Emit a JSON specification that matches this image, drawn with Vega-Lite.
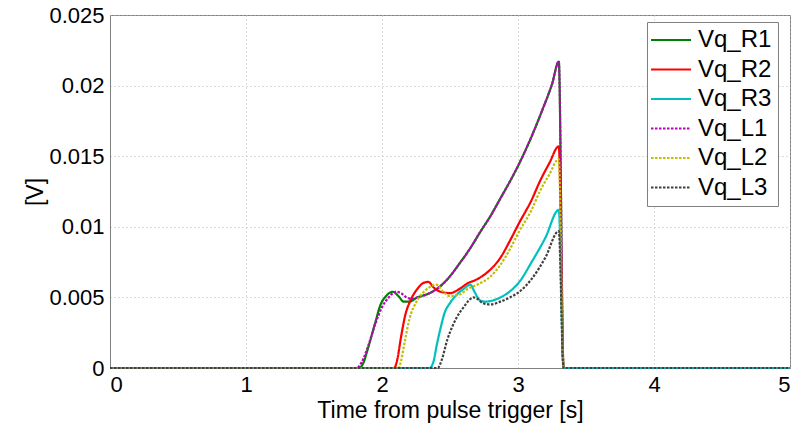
{
  "$schema": "https://vega.github.io/schema/vega-lite/v6.json",
  "width": 680,
  "height": 353,
  "autosize": {"type": "none"},
  "padding": {"left": 110, "top": 15, "right": 13, "bottom": 57},
  "background": "white",
  "config": {
    "view": {"stroke": "#808080", "strokeWidth": 1},
    "font": "Liberation Sans",
    "axis": {
      "labelFont": "Liberation Sans",
      "titleFont": "Liberation Sans",
      "labelFontSize": 22,
      "titleFontSize": 23,
      "titleFontWeight": "normal",
      "labelColor": "black",
      "titleColor": "black",
      "domainColor": "#808080",
      "ticks": false,
      "grid": true,
      "gridDash": [1, 3],
      "gridColor": "#b8b8b8"
    },
    "legend": {
      "symbolType": "M-4,0H4",
      "symbolSize": 100,
      "symbolStrokeWidth": 2.2,
      "symbolOffset": 6,
      "labelOffset": 15,
      "labelFontSize": 24,
      "labelFont": "Liberation Sans",
      "labelColor": "black",
      "strokeColor": "#808080",
      "fillColor": "white",
      "padding": 6,
      "rowPadding": 5.5
    }
  },
  "data": {
    "values": [
      {"series": "Vq_R1", "t": 0, "v": 0},
      {"series": "Vq_R1", "t": 1.83, "v": 0},
      {"series": "Vq_R1", "t": 1.86, "v": 0.0003},
      {"series": "Vq_R1", "t": 1.90, "v": 0.0015},
      {"series": "Vq_R1", "t": 1.95, "v": 0.0032},
      {"series": "Vq_R1", "t": 1.99, "v": 0.0045},
      {"series": "Vq_R1", "t": 2.03, "v": 0.0051},
      {"series": "Vq_R1", "t": 2.08, "v": 0.0054},
      {"series": "Vq_R1", "t": 2.12, "v": 0.0051},
      {"series": "Vq_R1", "t": 2.16, "v": 0.0047},
      {"series": "Vq_R1", "t": 2.20, "v": 0.0047},
      {"series": "Vq_R1", "t": 2.26, "v": 0.0050},
      {"series": "Vq_R1", "t": 2.35, "v": 0.0053},
      {"series": "Vq_R1", "t": 2.43, "v": 0.0058},
      {"series": "Vq_R1", "t": 2.50, "v": 0.0065},
      {"series": "Vq_R1", "t": 2.57, "v": 0.0074},
      {"series": "Vq_R1", "t": 2.65, "v": 0.0085},
      {"series": "Vq_R1", "t": 2.72, "v": 0.0096},
      {"series": "Vq_R1", "t": 2.80, "v": 0.0108},
      {"series": "Vq_R1", "t": 2.87, "v": 0.0120},
      {"series": "Vq_R1", "t": 2.94, "v": 0.0132},
      {"series": "Vq_R1", "t": 3.01, "v": 0.0145},
      {"series": "Vq_R1", "t": 3.10, "v": 0.0164},
      {"series": "Vq_R1", "t": 3.18, "v": 0.0183},
      {"series": "Vq_R1", "t": 3.25, "v": 0.0201},
      {"series": "Vq_R1", "t": 3.30, "v": 0.0217},
      {"series": "Vq_R1", "t": 3.335, "v": 0},
      {"series": "Vq_R1", "t": 5, "v": 0},

      {"series": "Vq_R2", "t": 0, "v": 0},
      {"series": "Vq_R2", "t": 2.09, "v": 0},
      {"series": "Vq_R2", "t": 2.11, "v": 0.0005},
      {"series": "Vq_R2", "t": 2.14, "v": 0.0022},
      {"series": "Vq_R2", "t": 2.17, "v": 0.0037},
      {"series": "Vq_R2", "t": 2.21, "v": 0.0048},
      {"series": "Vq_R2", "t": 2.26, "v": 0.0056},
      {"series": "Vq_R2", "t": 2.30, "v": 0.0060},
      {"series": "Vq_R2", "t": 2.34, "v": 0.0061},
      {"series": "Vq_R2", "t": 2.38, "v": 0.0057},
      {"series": "Vq_R2", "t": 2.43, "v": 0.0054},
      {"series": "Vq_R2", "t": 2.50, "v": 0.0053},
      {"series": "Vq_R2", "t": 2.57, "v": 0.0056},
      {"series": "Vq_R2", "t": 2.63, "v": 0.0060},
      {"series": "Vq_R2", "t": 2.68, "v": 0.0062},
      {"series": "Vq_R2", "t": 2.72, "v": 0.0064},
      {"series": "Vq_R2", "t": 2.80, "v": 0.0070},
      {"series": "Vq_R2", "t": 2.87, "v": 0.0078},
      {"series": "Vq_R2", "t": 2.94, "v": 0.0090},
      {"series": "Vq_R2", "t": 3.01, "v": 0.0103},
      {"series": "Vq_R2", "t": 3.10, "v": 0.0119},
      {"series": "Vq_R2", "t": 3.16, "v": 0.0132},
      {"series": "Vq_R2", "t": 3.23, "v": 0.0145},
      {"series": "Vq_R2", "t": 3.30, "v": 0.0157},
      {"series": "Vq_R2", "t": 3.335, "v": 0},
      {"series": "Vq_R2", "t": 5, "v": 0},

      {"series": "Vq_R3", "t": 0, "v": 0},
      {"series": "Vq_R3", "t": 2.35, "v": 0},
      {"series": "Vq_R3", "t": 2.38, "v": 0.0005},
      {"series": "Vq_R3", "t": 2.40, "v": 0.0015},
      {"series": "Vq_R3", "t": 2.43, "v": 0.0028},
      {"series": "Vq_R3", "t": 2.46, "v": 0.0039},
      {"series": "Vq_R3", "t": 2.50, "v": 0.0046},
      {"series": "Vq_R3", "t": 2.55, "v": 0.0052},
      {"series": "Vq_R3", "t": 2.60, "v": 0.0056},
      {"series": "Vq_R3", "t": 2.65, "v": 0.0059},
      {"series": "Vq_R3", "t": 2.68, "v": 0.0054},
      {"series": "Vq_R3", "t": 2.72, "v": 0.0048},
      {"series": "Vq_R3", "t": 2.76, "v": 0.0047},
      {"series": "Vq_R3", "t": 2.82, "v": 0.0048},
      {"series": "Vq_R3", "t": 2.89, "v": 0.0051},
      {"series": "Vq_R3", "t": 2.95, "v": 0.0055},
      {"series": "Vq_R3", "t": 3.01, "v": 0.0061},
      {"series": "Vq_R3", "t": 3.10, "v": 0.0075},
      {"series": "Vq_R3", "t": 3.20, "v": 0.0092},
      {"series": "Vq_R3", "t": 3.30, "v": 0.0112},
      {"series": "Vq_R3", "t": 3.335, "v": 0},
      {"series": "Vq_R3", "t": 5, "v": 0},

      {"series": "Vq_L1", "t": 0, "v": 0},
      {"series": "Vq_L1", "t": 1.81, "v": 0},
      {"series": "Vq_L1", "t": 1.85, "v": 0.0004},
      {"series": "Vq_L1", "t": 1.90, "v": 0.0016},
      {"series": "Vq_L1", "t": 1.95, "v": 0.0031},
      {"series": "Vq_L1", "t": 2.00, "v": 0.0043},
      {"series": "Vq_L1", "t": 2.05, "v": 0.0050},
      {"series": "Vq_L1", "t": 2.10, "v": 0.0054},
      {"series": "Vq_L1", "t": 2.14, "v": 0.0053},
      {"series": "Vq_L1", "t": 2.18, "v": 0.0050},
      {"series": "Vq_L1", "t": 2.22, "v": 0.0049},
      {"series": "Vq_L1", "t": 2.26, "v": 0.0050},
      {"series": "Vq_L1", "t": 2.35, "v": 0.0053},
      {"series": "Vq_L1", "t": 2.43, "v": 0.0058},
      {"series": "Vq_L1", "t": 2.50, "v": 0.0065},
      {"series": "Vq_L1", "t": 2.57, "v": 0.0074},
      {"series": "Vq_L1", "t": 2.65, "v": 0.0085},
      {"series": "Vq_L1", "t": 2.72, "v": 0.0096},
      {"series": "Vq_L1", "t": 2.80, "v": 0.0108},
      {"series": "Vq_L1", "t": 2.87, "v": 0.0120},
      {"series": "Vq_L1", "t": 2.94, "v": 0.0132},
      {"series": "Vq_L1", "t": 3.01, "v": 0.0145},
      {"series": "Vq_L1", "t": 3.10, "v": 0.0164},
      {"series": "Vq_L1", "t": 3.18, "v": 0.0183},
      {"series": "Vq_L1", "t": 3.25, "v": 0.0201},
      {"series": "Vq_L1", "t": 3.30, "v": 0.0217},
      {"series": "Vq_L1", "t": 3.335, "v": 0},
      {"series": "Vq_L1", "t": 5, "v": 0},

      {"series": "Vq_L2", "t": 0, "v": 0},
      {"series": "Vq_L2", "t": 2.12, "v": 0},
      {"series": "Vq_L2", "t": 2.14, "v": 0.0005},
      {"series": "Vq_L2", "t": 2.17, "v": 0.0020},
      {"series": "Vq_L2", "t": 2.20, "v": 0.0034},
      {"series": "Vq_L2", "t": 2.26, "v": 0.0048},
      {"series": "Vq_L2", "t": 2.32, "v": 0.0055},
      {"series": "Vq_L2", "t": 2.40, "v": 0.0059},
      {"series": "Vq_L2", "t": 2.45, "v": 0.0054},
      {"series": "Vq_L2", "t": 2.50, "v": 0.0051},
      {"series": "Vq_L2", "t": 2.57, "v": 0.0052},
      {"series": "Vq_L2", "t": 2.63, "v": 0.0056},
      {"series": "Vq_L2", "t": 2.70, "v": 0.0059},
      {"series": "Vq_L2", "t": 2.80, "v": 0.0065},
      {"series": "Vq_L2", "t": 2.87, "v": 0.0073},
      {"series": "Vq_L2", "t": 2.94, "v": 0.0084},
      {"series": "Vq_L2", "t": 3.01, "v": 0.0097},
      {"series": "Vq_L2", "t": 3.10, "v": 0.0112},
      {"series": "Vq_L2", "t": 3.16, "v": 0.0125},
      {"series": "Vq_L2", "t": 3.23, "v": 0.0137},
      {"series": "Vq_L2", "t": 3.30, "v": 0.0148},
      {"series": "Vq_L2", "t": 3.335, "v": 0},
      {"series": "Vq_L2", "t": 5, "v": 0},

      {"series": "Vq_L3", "t": 0, "v": 0},
      {"series": "Vq_L3", "t": 2.41, "v": 0},
      {"series": "Vq_L3", "t": 2.44, "v": 0.0006},
      {"series": "Vq_L3", "t": 2.48, "v": 0.0020},
      {"series": "Vq_L3", "t": 2.52, "v": 0.0030},
      {"series": "Vq_L3", "t": 2.55, "v": 0.0036},
      {"series": "Vq_L3", "t": 2.60, "v": 0.0043},
      {"series": "Vq_L3", "t": 2.64, "v": 0.0048},
      {"series": "Vq_L3", "t": 2.67, "v": 0.0050},
      {"series": "Vq_L3", "t": 2.70, "v": 0.0049},
      {"series": "Vq_L3", "t": 2.74, "v": 0.0046},
      {"series": "Vq_L3", "t": 2.80, "v": 0.0045},
      {"series": "Vq_L3", "t": 2.87, "v": 0.0047},
      {"series": "Vq_L3", "t": 2.94, "v": 0.0050},
      {"series": "Vq_L3", "t": 3.01, "v": 0.0054},
      {"series": "Vq_L3", "t": 3.10, "v": 0.0063},
      {"series": "Vq_L3", "t": 3.20, "v": 0.0078},
      {"series": "Vq_L3", "t": 3.30, "v": 0.0097},
      {"series": "Vq_L3", "t": 3.335, "v": 0},
      {"series": "Vq_L3", "t": 5, "v": 0}
    ]
  },
  "mark": {"type": "line", "strokeWidth": 2.2, "interpolate": "monotone"},
  "encoding": {
    "x": {
      "field": "t",
      "type": "quantitative",
      "scale": {"domain": [0, 5], "nice": false},
      "axis": {"title": "Time from pulse trigger [s]", "values": [0, 1, 2, 3, 4, 5], "labelPadding": 6, "titlePadding": 4}
    },
    "y": {
      "field": "v",
      "type": "quantitative",
      "scale": {"domain": [0, 0.025], "nice": false},
      "axis": {"title": "[V]", "values": [0, 0.005, 0.01, 0.015, 0.02, 0.025], "format": "~g", "labelPadding": 6, "titlePadding": 1}
    },
    "color": {
      "field": "series",
      "type": "nominal",
      "scale": {
        "domain": ["Vq_R1", "Vq_R2", "Vq_R3", "Vq_L1", "Vq_L2", "Vq_L3"],
        "range": ["#008000", "#ff0000", "#00bfbf", "#bf00bf", "#bfbf00", "#404040"]
      },
      "legend": {"title": null, "orient": "none", "legendX": 537, "legendY": 7}
    },
    "strokeDash": {
      "field": "series",
      "type": "nominal",
      "scale": {
        "domain": ["Vq_R1", "Vq_R2", "Vq_R3", "Vq_L1", "Vq_L2", "Vq_L3"],
        "range": [[1, 0], [1, 0], [1, 0], [2.5, 1.5], [2.5, 1.5], [2.5, 1.5]]
      },
      "legend": {"title": null, "orient": "none", "legendX": 537, "legendY": 7}
    }
  }
}
